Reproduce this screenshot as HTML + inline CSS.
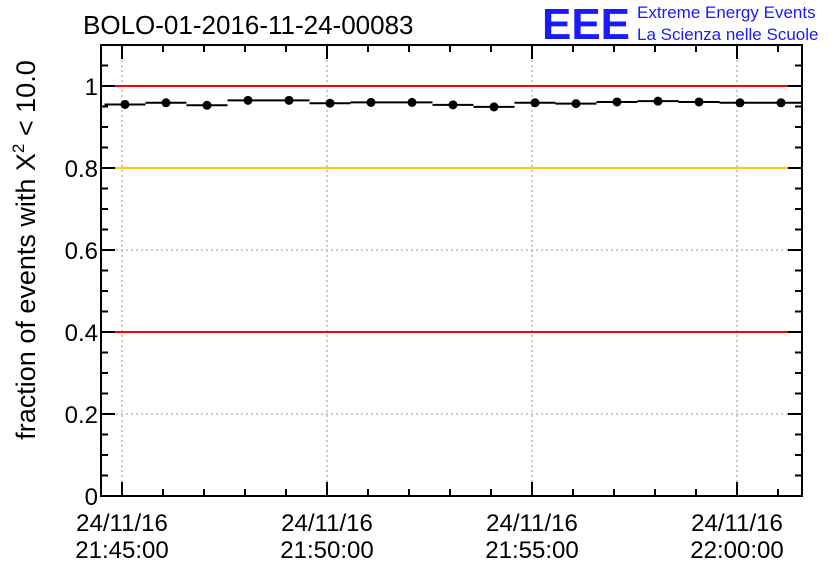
<!DOCTYPE html>
<html><head><meta charset="utf-8"><style>
body{margin:0;background:#fff;width:836px;height:572px;overflow:hidden}
svg text{font-family:"Liberation Sans",sans-serif}
</style></head><body>
<svg id="c" width="836" height="572">
<text x="83" y="34" font-size="26">BOLO-01-2016-11-24-00083</text>
<g>
<text x="542" y="39" font-size="44" font-weight="bold" fill="#1a1aff" textLength="88" lengthAdjust="spacingAndGlyphs">EEE</text>
<text x="637" y="18" font-size="17" fill="#1a1aff">Extreme Energy Events</text>
<text x="637" y="40" font-size="17" fill="#1a1aff">La Scienza nelle Scuole</text>
</g>
<text transform="translate(35,250) rotate(-90)" text-anchor="middle" font-size="27">fraction of events with Χ<tspan dy="-11" font-size="17">2</tspan><tspan dy="11"> &lt; 10.0</tspan></text>
<g id="plot"></g>
</svg>
<script>
const yTicks=[0,0.2,0.4,0.6,0.8,1];
const yTickLabels=["0","0.2","0.4","0.6","0.8","1"];
const xTickMinutes=[0,5,10,15];
const xTickDates=["24/11/16","24/11/16","24/11/16","24/11/16"];
const xTickTimes=["21:45:00","21:50:00","21:55:00","22:00:00"];
const binMinutes=[0,1,2,3,4,5,6,7,8,9,10,11,12,13,14,15,16];
const fractions=[0.955,0.959,0.953,0.965,0.965,0.958,0.960,0.960,0.954,0.949,0.959,0.957,0.961,0.963,0.961,0.959,0.959];
const refLines=[{v:1.0,c:"#ff0000",n:"upper-red-line"},{v:0.8,c:"#ffcc00",n:"yellow-line"},{v:0.4,c:"#ff0000",n:"lower-red-line"}];
const L=101,R=802,T=45,B=496;
const Y=v=>B-v*410;
const X=m=>122+m*41;
const g=document.getElementById('plot');
const NS="http://www.w3.org/2000/svg";
function mk(t,a,p){const e=document.createElementNS(NS,t);for(const k in a)e.setAttribute(k,a[k]);(p||g).appendChild(e);return e;}
xTickMinutes.forEach(m=>{const e=mk('line',{x1:X(m),x2:X(m),y1:T,y2:B,stroke:'#999','stroke-dasharray':'2,3','stroke-width':1});

});
yTicks.forEach(v=>{const e=mk('line',{x1:L,x2:R,y1:Y(v),y2:Y(v),stroke:'#999','stroke-dasharray':'2,3','stroke-width':1});

});
refLines.forEach(r=>{const e=mk('line',{x1:L,x2:R,y1:Y(r.v),y2:Y(r.v),stroke:r.c,'stroke-width':2});

});
for(let v=0;v<=1.1001;v+=0.05){const maj=Math.abs(v/0.2-Math.round(v/0.2))<1e-6;const len=maj?14:7;
mk('line',{x1:L,x2:L+len,y1:Y(v),y2:Y(v),stroke:'#000','stroke-width':2});
mk('line',{x1:R,x2:R-len,y1:Y(v),y2:Y(v),stroke:'#000','stroke-width':2});}
for(let m=0;m<=16;m++){const maj=m%5===0;const len=maj?14:7;
mk('line',{x1:X(m),x2:X(m),y1:B,y2:B-len,stroke:'#000','stroke-width':2});
mk('line',{x1:X(m),x2:X(m),y1:T,y2:T+len,stroke:'#000','stroke-width':2});}
const fr=mk('rect',{x:L,y:T,width:R-L,height:B-T,fill:'none',stroke:'#000','stroke-width':2});


yTicks.forEach((v,i)=>{const t=mk('text',{x:L-3,y:Y(v)+9,'text-anchor':'end','font-size':24});t.textContent=yTickLabels[i];

});
xTickMinutes.forEach((m,i)=>{const t=mk('text',{x:X(m),y:531,'text-anchor':'middle','font-size':24});t.textContent=xTickDates[i];


const t2=mk('text',{x:X(m),y:558,'text-anchor':'middle','font-size':24});t2.textContent=xTickTimes[i];

});
binMinutes.forEach((m,i)=>{const cx=X(m)+3,cy=Y(fractions[i]);
const l=mk('line',{x1:cx-20.5,x2:Math.min(cx+20.5,R),y1:cy,y2:cy,stroke:'#000','stroke-width':2});


const c=mk('circle',{cx:cx,cy:cy,r:4.5,fill:'#000'});

});
</script>
</body></html>
